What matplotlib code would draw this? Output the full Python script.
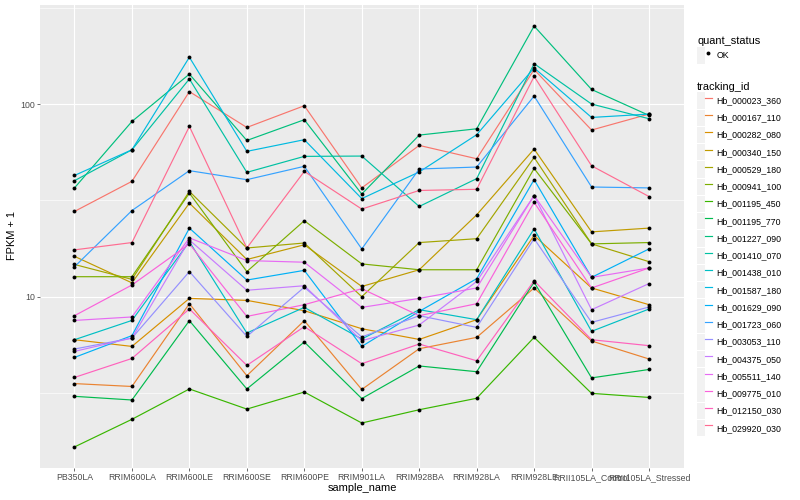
import matplotlib
matplotlib.use("Agg")
import numpy as np
import matplotlib.pyplot as plt
from matplotlib.lines import Line2D
from matplotlib.patches import Rectangle
from matplotlib.legend_handler import HandlerTuple

plt.rcParams['font.family'] = ['Liberation Sans', 'DejaVu Sans']

# samples on the x axis
samples = ["PB350LA", "RRIM600LA", "RRIM600LE", "RRIM600SE", "RRIM600PE", "RRIM901LA",
           "RRIM928BA", "RRIM928LA", "RRIM928LE", "RRII105LA_Control", "RRII105LA_Stressed"]

# FPKM + 1 per gene
hb_000023_360 = [27.7, 39.7, 116, 75.6, 98.0, 36.7, 61.0, 52.0, 151, 73.3, 88.7]
hb_000167_110 = [3.54, 3.42, 9.20, 3.89, 7.51, 3.30, 5.37, 6.15, 11.1, 5.89, 4.75]
hb_000282_080 = [5.98, 5.52, 9.80, 9.57, 8.46, 6.82, 6.00, 7.60, 20.8, 11.1, 9.09]
hb_000340_150 = [16.2, 11.8, 30.6, 15.6, 18.6, 11.3, 13.8, 26.6, 58.4, 21.7, 22.7]
hb_000529_180 = [14.7, 12.3, 35.2, 17.9, 19.0, 10.0, 19.1, 20.0, 52.8, 18.8, 15.2]
hb_000941_100 = [12.7, 12.7, 34.5, 13.5, 24.8, 14.8, 13.8, 13.8, 46.3, 18.8, 19.1]
hb_001195_450 = [1.66, 2.31, 3.32, 2.61, 3.20, 2.21, 2.59, 2.97, 6.15, 3.15, 3.00]
hb_001195_770 = [3.04, 2.91, 7.51, 3.32, 5.82, 2.96, 4.37, 4.08, 11.9, 3.79, 4.19]
hb_001227_090 = [36.7, 81.2, 143, 64.7, 82.9, 34.1, 69.0, 74.4, 254, 119, 87.3]
hb_001410_070 = [40.0, 57.9, 135, 44.2, 53.5, 53.7, 29.4, 41.0, 162, 100, 83.9]
hb_001438_010 = [5.98, 7.53, 19.3, 6.48, 8.80, 6.03, 8.56, 7.60, 22.5, 6.61, 8.63]
hb_001587_180 = [42.6, 57.9, 175, 56.8, 65.3, 32.3, 44.4, 69.3, 154, 85.2, 88.7]
hb_001629_090 = [4.84, 6.28, 22.7, 12.2, 13.7, 5.52, 8.39, 12.4, 40.5, 12.6, 17.7]
hb_001723_060 = [14.3, 28.0, 45.1, 40.5, 47.5, 17.7, 46.0, 47.1, 110, 37.1, 36.7]
hb_003053_110 = [5.35, 6.10, 13.5, 6.22, 11.2, 6.18, 7.97, 6.93, 20.0, 7.36, 8.84]
hb_004375_050 = [5.20, 6.10, 19.7, 10.8, 11.4, 5.91, 7.13, 12.0, 33.5, 8.56, 11.7]
hb_005511_140 = [7.53, 7.85, 20.2, 15.4, 15.1, 8.80, 9.80, 11.1, 33.5, 12.6, 14.1]
hb_009775_010 = [7.97, 11.5, 18.8, 7.90, 9.09, 11.0, 7.97, 9.20, 30.9, 11.1, 14.1]
hb_012150_030 = [3.81, 4.78, 8.64, 4.40, 6.99, 4.49, 5.68, 4.65, 12.1, 5.98, 5.57]
hb_029920_030 = [17.5, 19.1, 76.5, 17.9, 44.7, 28.5, 35.6, 36.1, 139, 47.8, 33.1]

tracking_ids = ["Hb_000023_360", "Hb_000167_110", "Hb_000282_080", "Hb_000340_150",
                "Hb_000529_180", "Hb_000941_100", "Hb_001195_450", "Hb_001195_770",
                "Hb_001227_090", "Hb_001410_070", "Hb_001438_010", "Hb_001587_180",
                "Hb_001629_090", "Hb_001723_060", "Hb_003053_110", "Hb_004375_050",
                "Hb_005511_140", "Hb_009775_010", "Hb_012150_030", "Hb_029920_030"]
series = [hb_000023_360, hb_000167_110, hb_000282_080, hb_000340_150, hb_000529_180,
          hb_000941_100, hb_001195_450, hb_001195_770, hb_001227_090, hb_001410_070,
          hb_001438_010, hb_001587_180, hb_001629_090, hb_001723_060, hb_003053_110,
          hb_004375_050, hb_005511_140, hb_009775_010, hb_012150_030, hb_029920_030]

# ggplot hue palette for 20 groups
colors = ["#F8766D", "#EA8331", "#D89000", "#C09B00", "#A3A500", "#7CAE00", "#39B600",
          "#00BB4E", "#00BF7D", "#00C1A3", "#00BFC4", "#00BAE0", "#00B0F6", "#35A2FF",
          "#9590FF", "#C77CFF", "#E76BF3", "#FA62DB", "#FF62BC", "#FF6C91"]

fig = plt.figure(figsize=(8, 5), dpi=100)
ax = fig.add_axes([40 / 800, 1 - 468 / 500, (683.5 - 40) / 800, (468 - 5) / 500])
ax.set_facecolor('#EBEBEB')

x = np.arange(len(samples))
for vals, c in zip(series, colors):
    ax.plot(x, vals, color=c, lw=0.85, zorder=3)
for vals in series:
    ax.plot(x, vals, 'o', color='black', ms=2.8, mew=0, zorder=4)

ax.set_yscale('log')
lo = np.log10(min(min(s) for s in series))
hi = np.log10(max(max(s) for s in series))
pad = (hi - lo) * 0.05
ax.set_ylim(10 ** (lo - pad), 10 ** (hi + pad))
ax.set_xlim(-0.6, len(samples) - 1 + 0.6)

ax.set_yticks([10, 100])
ax.set_yticklabels(["10", "100"])
ax.set_yticks([10 ** 0.5, 10 ** 1.5, 10 ** 2.5], minor=True)
ax.set_yticklabels([], minor=True)
ax.set_xticks(x)
ax.set_xticklabels(samples)

ax.grid(which='major', color='white', lw=0.85)
ax.grid(which='minor', axis='y', color='white', lw=0.45)
ax.set_axisbelow(True)
for sp in ax.spines.values():
    sp.set_visible(False)
ax.tick_params(which='major', length=2.0, width=0.5, color='#333333', labelsize=6.3,
               labelcolor='#4D4D4D', pad=1.6)
ax.tick_params(which='minor', length=0)

fig.text(12 / 800, 1 - 236 / 500, "FPKM + 1", rotation=90, ha='center', va='center', fontsize=7.9)
fig.text(362 / 800, 1 - 488 / 500, "sample_name", ha='center', va='center', fontsize=7.9)

key_bg = '#F2F2F2'
leg_kw = dict(loc='upper left', frameon=False, fontsize=6.3, title_fontsize=7.9,
              handlelength=1.75, handleheight=2.5, labelspacing=0.1, handletextpad=0.45,
              borderpad=0, borderaxespad=0, alignment='left',
              handler_map={tuple: HandlerTuple(ndivide=None, pad=0)})

qs_handle = [(Rectangle((0, 0), 1, 1, fc=key_bg, ec='none'),
              Line2D([], [], marker='o', color='black', ls='none', ms=2.8, mew=0))]
leg1 = fig.legend(qs_handle, ["OK"], title="quant_status",
                  bbox_to_anchor=(697 / 800, 1 - 36.5 / 500), **leg_kw)

id_handles = [(Rectangle((0, 0), 1, 1, fc=key_bg, ec='none'),
               Line2D([], [], color=c, lw=0.85)) for c in colors]
leg2 = fig.legend(id_handles, tracking_ids, title="tracking_id",
                  bbox_to_anchor=(697 / 800, 1 - 81.5 / 500), **leg_kw)

fig.savefig("out.png", dpi=100)
